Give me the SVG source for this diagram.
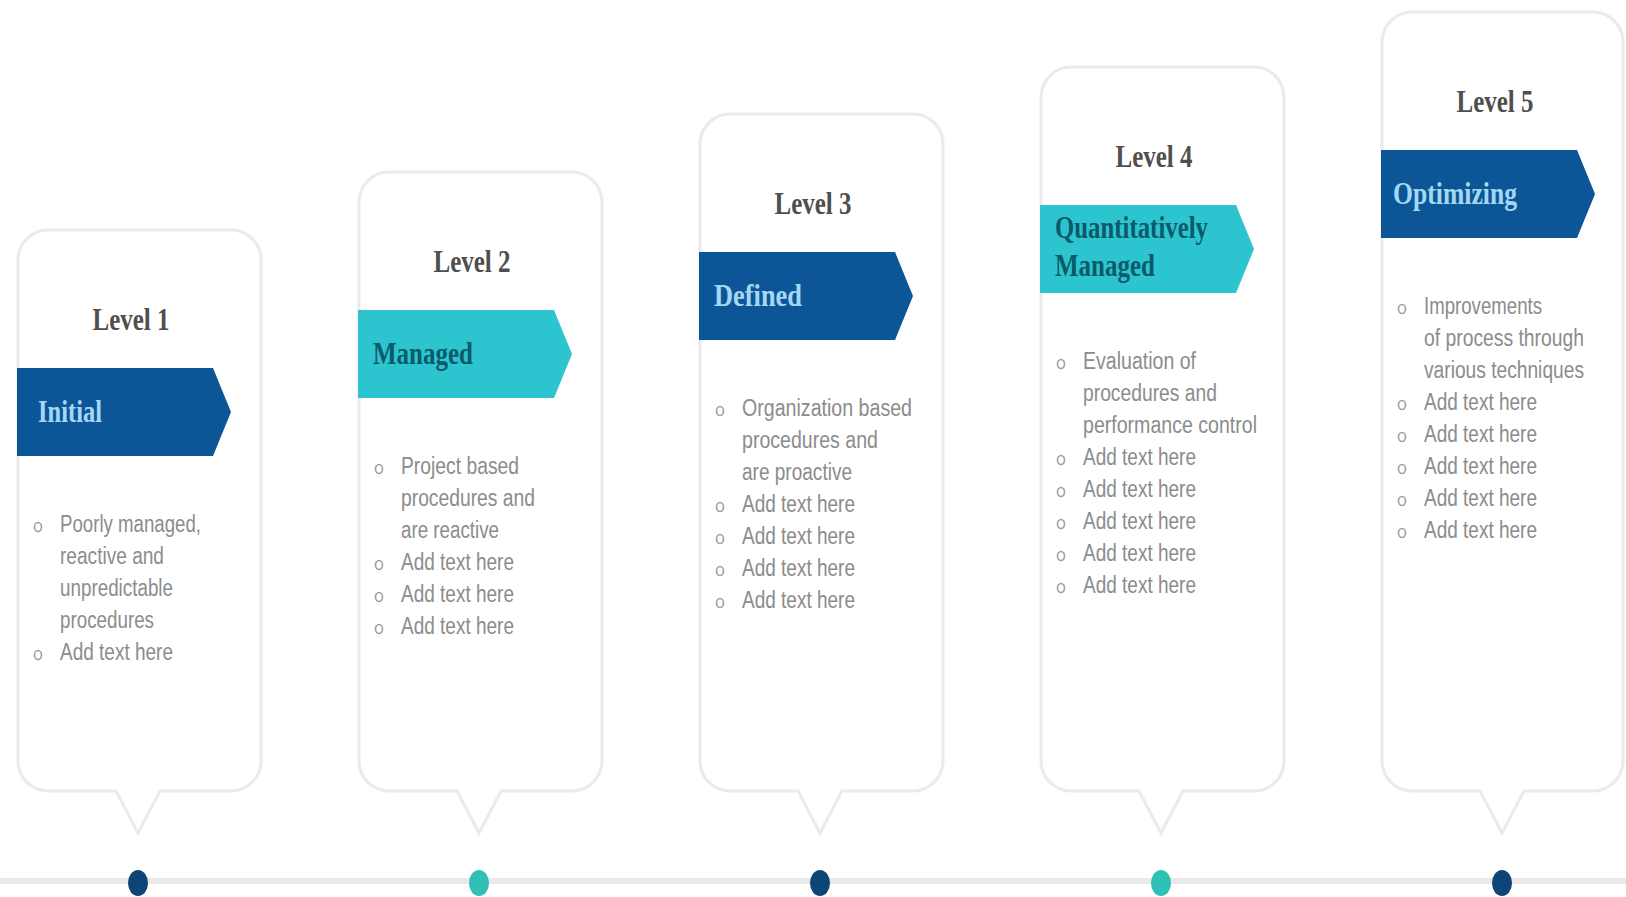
<svg xmlns="http://www.w3.org/2000/svg" width="1626" height="897" viewBox="0 0 1626 897">
<style>
.card{fill:#ffffff;stroke:#ebebeb;stroke-width:3.2}
.navy{fill:#0c5596}
.teal{fill:#2cc4cf}
.lv{font-family:"Liberation Serif",serif;font-weight:bold;font-size:31px;fill:#4f4f4f;text-anchor:middle}
.bn{font-family:"Liberation Serif",serif;font-weight:bold;font-size:31px}
.bnL{fill:#a3d8f4}
.bnD{fill:#0b5a6b}
.b{font-family:"Liberation Sans",Arial,sans-serif;font-size:23px;fill:#8c8c8c}
.bul{fill:none;stroke:#a0a0a0;stroke-width:1.6}
.dotN{fill:#0d4676}
.dotT{fill:#2fc0b6}
</style>
<rect width="1626" height="897" fill="#ffffff"/>
<g id="connectors">
<line x1="0" y1="881" x2="1626" y2="881" stroke="#e9e9e9" stroke-width="6"/>
</g>
<g id="level1">
<path class="card" d="M48,230 H231 A30,30 0 0 1 261,260 V761 A30,30 0 0 1 231,791 H160 L138,833 L116,791 H48 A30,30 0 0 1 18,761 V260 A30,30 0 0 1 48,230 Z"/>
<text class="lv" x="131" y="330" textLength="77" lengthAdjust="spacingAndGlyphs">Level 1</text>
<path class="navy" d="M17,368 H213 L231,412 L213,456 H17 Z"/>
<text class="bn bnL" x="38" y="422" textLength="64" lengthAdjust="spacingAndGlyphs">Initial</text>
<ellipse class="bul" cx="38" cy="527" rx="3.5" ry="4.5"/>
<text class="b" x="60" y="532" textLength="141" lengthAdjust="spacingAndGlyphs">Poorly managed,</text>
<text class="b" x="60" y="564" textLength="104" lengthAdjust="spacingAndGlyphs">reactive and</text>
<text class="b" x="60" y="596" textLength="113" lengthAdjust="spacingAndGlyphs">unpredictable</text>
<text class="b" x="60" y="628" textLength="94" lengthAdjust="spacingAndGlyphs">procedures</text>
<ellipse class="bul" cx="38" cy="655" rx="3.5" ry="4.5"/>
<text class="b" x="60" y="660" textLength="113" lengthAdjust="spacingAndGlyphs">Add text here</text>
<ellipse class="dotN" cx="138" cy="883" rx="10" ry="13"/>
</g>
<g id="level2">
<path class="card" d="M389,172 H572 A30,30 0 0 1 602,202 V761 A30,30 0 0 1 572,791 H501 L479,833 L457,791 H389 A30,30 0 0 1 359,761 V202 A30,30 0 0 1 389,172 Z"/>
<text class="lv" x="472" y="272" textLength="77" lengthAdjust="spacingAndGlyphs">Level 2</text>
<path class="teal" d="M358,310 H554 L572,354 L554,398 H358 Z"/>
<text class="bn bnD" x="373" y="364" textLength="100" lengthAdjust="spacingAndGlyphs">Managed</text>
<ellipse class="bul" cx="379" cy="469" rx="3.5" ry="4.5"/>
<text class="b" x="401" y="474" textLength="118" lengthAdjust="spacingAndGlyphs">Project based</text>
<text class="b" x="401" y="506" textLength="134" lengthAdjust="spacingAndGlyphs">procedures and</text>
<text class="b" x="401" y="538" textLength="98" lengthAdjust="spacingAndGlyphs">are reactive</text>
<ellipse class="bul" cx="379" cy="565" rx="3.5" ry="4.5"/>
<text class="b" x="401" y="570" textLength="113" lengthAdjust="spacingAndGlyphs">Add text here</text>
<ellipse class="bul" cx="379" cy="597" rx="3.5" ry="4.5"/>
<text class="b" x="401" y="602" textLength="113" lengthAdjust="spacingAndGlyphs">Add text here</text>
<ellipse class="bul" cx="379" cy="629" rx="3.5" ry="4.5"/>
<text class="b" x="401" y="634" textLength="113" lengthAdjust="spacingAndGlyphs">Add text here</text>
<ellipse class="dotT" cx="479" cy="883" rx="10" ry="13"/>
</g>
<g id="level3">
<path class="card" d="M730,114 H913 A30,30 0 0 1 943,144 V761 A30,30 0 0 1 913,791 H842 L820,833 L798,791 H730 A30,30 0 0 1 700,761 V144 A30,30 0 0 1 730,114 Z"/>
<text class="lv" x="813" y="214" textLength="77" lengthAdjust="spacingAndGlyphs">Level 3</text>
<path class="navy" d="M699,252 H895 L913,296 L895,340 H699 Z"/>
<text class="bn bnL" x="714" y="306" textLength="88" lengthAdjust="spacingAndGlyphs">Defined</text>
<ellipse class="bul" cx="720" cy="411" rx="3.5" ry="4.5"/>
<text class="b" x="742" y="416" textLength="170" lengthAdjust="spacingAndGlyphs">Organization based</text>
<text class="b" x="742" y="448" textLength="136" lengthAdjust="spacingAndGlyphs">procedures and</text>
<text class="b" x="742" y="480" textLength="110" lengthAdjust="spacingAndGlyphs">are proactive</text>
<ellipse class="bul" cx="720" cy="507" rx="3.5" ry="4.5"/>
<text class="b" x="742" y="512" textLength="113" lengthAdjust="spacingAndGlyphs">Add text here</text>
<ellipse class="bul" cx="720" cy="539" rx="3.5" ry="4.5"/>
<text class="b" x="742" y="544" textLength="113" lengthAdjust="spacingAndGlyphs">Add text here</text>
<ellipse class="bul" cx="720" cy="571" rx="3.5" ry="4.5"/>
<text class="b" x="742" y="576" textLength="113" lengthAdjust="spacingAndGlyphs">Add text here</text>
<ellipse class="bul" cx="720" cy="603" rx="3.5" ry="4.5"/>
<text class="b" x="742" y="608" textLength="113" lengthAdjust="spacingAndGlyphs">Add text here</text>
<ellipse class="dotN" cx="820" cy="883" rx="10" ry="13"/>
</g>
<g id="level4">
<path class="card" d="M1071,67 H1254 A30,30 0 0 1 1284,97 V761 A30,30 0 0 1 1254,791 H1183 L1161,833 L1139,791 H1071 A30,30 0 0 1 1041,761 V97 A30,30 0 0 1 1071,67 Z"/>
<text class="lv" x="1154" y="167" textLength="77" lengthAdjust="spacingAndGlyphs">Level 4</text>
<path class="teal" d="M1040,205 H1236 L1254,249 L1236,293 H1040 Z"/>
<text class="bn bnD" x="1055" y="238" textLength="153" lengthAdjust="spacingAndGlyphs">Quantitatively</text>
<text class="bn bnD" x="1055" y="276" textLength="100" lengthAdjust="spacingAndGlyphs">Managed</text>
<ellipse class="bul" cx="1061" cy="364" rx="3.5" ry="4.5"/>
<text class="b" x="1083" y="369" textLength="113" lengthAdjust="spacingAndGlyphs">Evaluation of</text>
<text class="b" x="1083" y="401" textLength="134" lengthAdjust="spacingAndGlyphs">procedures and</text>
<text class="b" x="1083" y="433" textLength="174" lengthAdjust="spacingAndGlyphs">performance control</text>
<ellipse class="bul" cx="1061" cy="460" rx="3.5" ry="4.5"/>
<text class="b" x="1083" y="465" textLength="113" lengthAdjust="spacingAndGlyphs">Add text here</text>
<ellipse class="bul" cx="1061" cy="492" rx="3.5" ry="4.5"/>
<text class="b" x="1083" y="497" textLength="113" lengthAdjust="spacingAndGlyphs">Add text here</text>
<ellipse class="bul" cx="1061" cy="524" rx="3.5" ry="4.5"/>
<text class="b" x="1083" y="529" textLength="113" lengthAdjust="spacingAndGlyphs">Add text here</text>
<ellipse class="bul" cx="1061" cy="556" rx="3.5" ry="4.5"/>
<text class="b" x="1083" y="561" textLength="113" lengthAdjust="spacingAndGlyphs">Add text here</text>
<ellipse class="bul" cx="1061" cy="588" rx="3.5" ry="4.5"/>
<text class="b" x="1083" y="593" textLength="113" lengthAdjust="spacingAndGlyphs">Add text here</text>
<ellipse class="dotT" cx="1161" cy="883" rx="10" ry="13"/>
</g>
<g id="level5">
<path class="card" d="M1412,12 H1593 A30,30 0 0 1 1623,42 V761 A30,30 0 0 1 1593,791 H1524 L1502,833 L1480,791 H1412 A30,30 0 0 1 1382,761 V42 A30,30 0 0 1 1412,12 Z"/>
<text class="lv" x="1495" y="112" textLength="77" lengthAdjust="spacingAndGlyphs">Level 5</text>
<path class="navy" d="M1381,150 H1577 L1595,194 L1577,238 H1381 Z"/>
<text class="bn bnL" x="1393" y="204" textLength="124" lengthAdjust="spacingAndGlyphs">Optimizing</text>
<ellipse class="bul" cx="1402" cy="309" rx="3.5" ry="4.5"/>
<text class="b" x="1424" y="314" textLength="118" lengthAdjust="spacingAndGlyphs">Improvements</text>
<text class="b" x="1424" y="346" textLength="160" lengthAdjust="spacingAndGlyphs">of process through</text>
<text class="b" x="1424" y="378" textLength="160" lengthAdjust="spacingAndGlyphs">various techniques</text>
<ellipse class="bul" cx="1402" cy="405" rx="3.5" ry="4.5"/>
<text class="b" x="1424" y="410" textLength="113" lengthAdjust="spacingAndGlyphs">Add text here</text>
<ellipse class="bul" cx="1402" cy="437" rx="3.5" ry="4.5"/>
<text class="b" x="1424" y="442" textLength="113" lengthAdjust="spacingAndGlyphs">Add text here</text>
<ellipse class="bul" cx="1402" cy="469" rx="3.5" ry="4.5"/>
<text class="b" x="1424" y="474" textLength="113" lengthAdjust="spacingAndGlyphs">Add text here</text>
<ellipse class="bul" cx="1402" cy="501" rx="3.5" ry="4.5"/>
<text class="b" x="1424" y="506" textLength="113" lengthAdjust="spacingAndGlyphs">Add text here</text>
<ellipse class="bul" cx="1402" cy="533" rx="3.5" ry="4.5"/>
<text class="b" x="1424" y="538" textLength="113" lengthAdjust="spacingAndGlyphs">Add text here</text>
<ellipse class="dotN" cx="1502" cy="883" rx="10" ry="13"/>
</g>
</svg>
